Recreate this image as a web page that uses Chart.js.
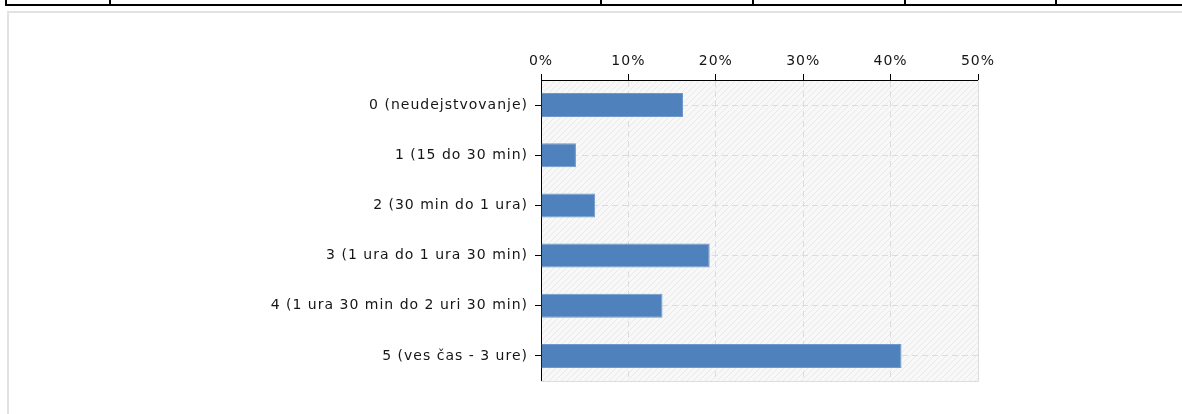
<!DOCTYPE html>
<html>
<head>
<meta charset="utf-8">
<script src="https://cdn.jsdelivr.net/npm/chart.js@4/dist/chart.umd.min.js"></script>
<style>
    html, body { margin: 0; padding: 0; background: #fff; overflow: hidden; }
    body { width: 1182px; height: 414px; position: relative; }
    .row { position: absolute; left: 5px; top: -30px; width: 1200px; height: 34px; border-left: 2px solid #000; border-bottom: 2px solid #000; }
    .row .cell { position: absolute; top: 0; height: 34px; border-left: 2px solid #000; }
    .panel { position: absolute; left: 7px; top: 11px; width: 1200px; height: 420px; border-left: 2px solid #e2e2e2; border-top: 2px solid #e2e2e2; }
    #chart { position: absolute; left: 0; top: 0; }
</style>
</head>
<body>
<div class="row">
    <div class="cell" style="left: 102px"></div>
    <div class="cell" style="left: 593px"></div>
    <div class="cell" style="left: 745px"></div>
    <div class="cell" style="left: 897px"></div>
    <div class="cell" style="left: 1048px"></div>
</div>
<div class="panel"></div>
<canvas id="chart" width="1182" height="414"></canvas>
<script>
const categories = [
    '0 (neudejstvovanje)',
    '1 (15 do 30 min)',
    '2 (30 min do 1 ura)',
    '3 (1 ura do 1 ura 30 min)',
    '4 (1 ura 30 min do 2 uri 30 min)',
    '5 (ves čas - 3 ure)'
];
const percentages = [16.25, 4.0, 6.2, 19.3, 13.9, 41.25];
const axisMax = 50;
const axisStep = 10;

const textColor = '#151515';
const gridColor = '#dcdcdc';

// striped background of the plot area + light frame on right / bottom
const plotBackground = {
    id: 'plotBackground',
    beforeLayout(chart) {
        chart.ctx.letterSpacing = '1px';
    },
    beforeDraw(chart) {
        const { ctx, chartArea } = chart;
        ctx.letterSpacing = '1px';
        const tile = document.createElement('canvas');
        tile.width = 6;
        tile.height = 6;
        const t = tile.getContext('2d');
        t.fillStyle = '#f8f8f8';
        t.fillRect(0, 0, 6, 6);
        t.strokeStyle = '#e9e9e9';
        t.lineWidth = 1;
        t.beginPath();
        t.moveTo(-1, 7);
        t.lineTo(7, -1);
        t.stroke();
        ctx.save();
        ctx.fillStyle = ctx.createPattern(tile, 'repeat');
        ctx.fillRect(chartArea.left, chartArea.top, chartArea.right - chartArea.left, chartArea.bottom - chartArea.top);
        ctx.restore();
    },
    beforeDatasetsDraw(chart) {
        const { ctx, chartArea } = chart;
        ctx.save();
        ctx.strokeStyle = gridColor;
        ctx.lineWidth = 1;
        ctx.beginPath();
        ctx.moveTo(chartArea.left, chartArea.bottom + 0.5);
        ctx.lineTo(chartArea.right + 0.5, chartArea.bottom + 0.5);
        ctx.lineTo(chartArea.right + 0.5, chartArea.top);
        ctx.stroke();
        ctx.restore();
    }
};

new Chart(document.getElementById('chart').getContext('2d'), {
    type: 'bar',
    data: {
        labels: categories,
        datasets: [{
            data: percentages,
            backgroundColor: '#4f81bd',
            borderColor: '#6f98cc',
            borderWidth: 1,
            barPercentage: 0.48,
            categoryPercentage: 1
        }]
    },
    options: {
        indexAxis: 'y',
        responsive: false,
        animation: false,
        devicePixelRatio: 1,
        layout: {
            padding: { top: 0, left: 0, right: 204, bottom: 33 }
        },
        plugins: {
            legend: { display: false },
            tooltip: { enabled: false }
        },
        scales: {
            x: {
                position: 'top',
                min: 0,
                max: axisMax,
                afterFit: (scale) => { scale.height = 80; },
                ticks: {
                    stepSize: axisStep,
                    color: textColor,
                    padding: 4,
                    font: { family: 'DejaVu Sans', size: 14 },
                    callback: (value) => value + '%'
                },
                grid: {
                    color: gridColor,
                    tickColor: '#000',
                    tickLength: 6,
                    tickBorderDash: []
                },
                border: {
                    color: '#000',
                    width: 1,
                    dash: [6, 4]
                }
            },
            y: {
                afterFit: (scale) => { scale.width = 541; },
                ticks: {
                    color: textColor,
                    padding: 7,
                    font: { family: 'DejaVu Sans', size: 14 }
                },
                grid: {
                    offset: false,
                    color: gridColor,
                    tickColor: '#000',
                    tickLength: 6,
                    tickBorderDash: []
                },
                border: {
                    color: '#000',
                    width: 1,
                    dash: [6, 4]
                }
            }
        }
    },
    plugins: [plotBackground]
});
</script>
</body>
</html>
